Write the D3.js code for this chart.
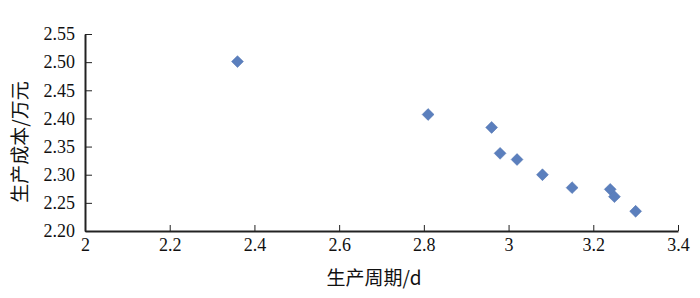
<!DOCTYPE html>
<html>
<head>
<meta charset="utf-8">
<script src="https://cdn.jsdelivr.net/npm/d3@7"></script>
<style>
  body { margin: 0; background: #fff; }
  svg { display: block; }
  .title { font-family: 'Noto Sans CJK SC', sans-serif; font-size: 19px; fill: #111; }
  .tick text { font-family: 'Times New Roman', 'Liberation Serif', Times, serif !important; }
</style>
</head>
<body>
<div id="chart"></div>
<script>
// data
const cycleDays = [2.36, 2.81, 2.96, 2.98, 3.02, 3.08, 3.15, 3.24, 3.25, 3.30];
const costWan = [2.501, 2.407, 2.384, 2.338, 2.327, 2.300, 2.277, 2.274, 2.261, 2.235];
const xTicks = [2, 2.2, 2.4, 2.6, 2.8, 3, 3.2, 3.4];
const yTicks = [2.20, 2.25, 2.30, 2.35, 2.40, 2.45, 2.50, 2.55];
const xTitle = '生产周期/d';
const yTitle = '生产成本/万元';

const width = 700, height = 298;
const margin = { top: 34, right: 22, bottom: 67, left: 85 };
const w = width - margin.left - margin.right;
const h = height - margin.top - margin.bottom;

const svg = d3.select('#chart').append('svg')
    .attr('width', width)
    .attr('height', height);

const g = svg.append('g')
    .attr('transform', `translate(${margin.left},${margin.top})`);

const x = d3.scaleLinear().domain([2, 3.4]).range([0, w]);
const y = d3.scaleLinear().domain([2.20, 2.55]).range([h, 0]);

const serifTicks = sel => sel
    .attr('font-family', 'Times New Roman, Liberation Serif, serif')
    .attr('font-size', 18)
    .call(g => g.selectAll('text').attr('fill', '#111'));

// x axis, ticks pointing inward
g.append('g')
    .attr('transform', `translate(0,${h})`)
    .call(d3.axisBottom(x).tickValues(xTicks).tickSizeInner(-6).tickSizeOuter(0)
        .tickPadding(6).tickFormat(d => String(+d.toFixed(1))))
    .call(serifTicks)
    .call(g => g.select('.domain').attr('stroke', '#222').attr('stroke-width', 2))
    .call(g => g.selectAll('line').attr('stroke', '#222'))
    .call(g => g.selectAll('text').attr('dy', '0.8em'));

// y axis
g.append('g')
    .call(d3.axisLeft(y).tickValues(yTicks).tickSizeInner(-7).tickSizeOuter(0)
        .tickPadding(10).tickFormat(d3.format('.2f')))
    .call(serifTicks)
    .call(g => g.select('.domain').attr('stroke', '#222').attr('stroke-width', 2))
    .call(g => g.selectAll('line').attr('stroke', '#222'));

// points
const diamond = d3.symbol().type(d3.symbolDiamond2).size(90);
g.append('g')
    .selectAll('path')
    .data(cycleDays.map((d, i) => ({ x: d, y: costWan[i] })))
    .enter()
    .append('path')
    .attr('d', diamond)
    .attr('transform', d => `translate(${x(d.x)},${y(d.y)})`)
    .attr('fill', '#5b7fbd')
    .attr('stroke', '#4a6fae')
    .attr('stroke-width', 0.5);

// axis titles
svg.append('text')
    .attr('class', 'title')
    .attr('x', 374)
    .attr('y', 285)
    .attr('text-anchor', 'middle')
    .text(xTitle);

svg.append('text')
    .attr('class', 'title')
    .attr('transform', `translate(27,142) rotate(-90)`)
    .attr('text-anchor', 'middle')
    .text(yTitle);
</script>
</body>
</html>
